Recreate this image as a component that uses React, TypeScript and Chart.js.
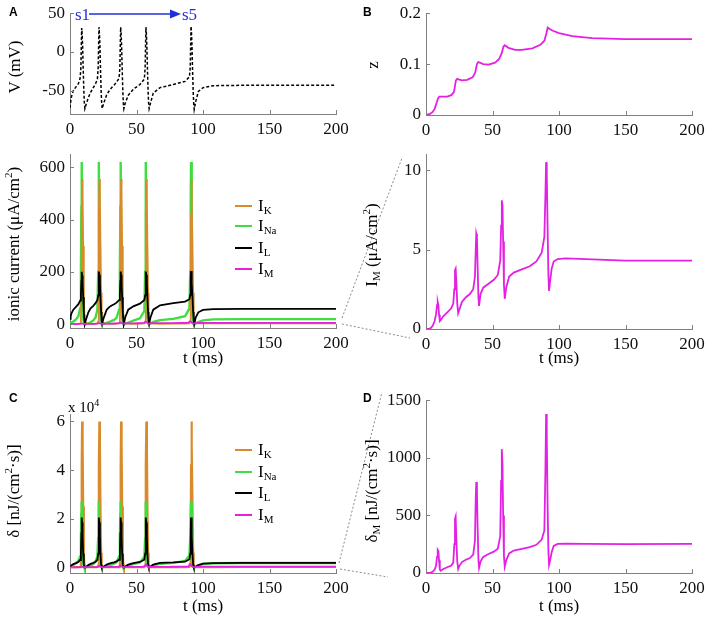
import React, { useEffect, useRef } from 'react';
import { Chart, registerables } from 'chart.js';

Chart.register(...registerables);

const SERIF = '"Liberation Serif", "Times New Roman", Times, serif';
const CANVAS_SERIF = 'Liberation Serif';
const SANS = '"Liberation Sans", Arial, Helvetica, sans-serif';
const AXIS = '#808080';
const TXT = '#111111';
const ORANGE = '#d98b2c';
const GREEN = '#3ddf3d';
const BLACK = '#000000';
const MAGENTA = '#e320e3';
const BLUE = '#2130d6';

Chart.defaults.font.family = CANVAS_SERIF;

// ---------- tick values ----------
const T_TICKS = [0, 50, 100, 150, 200];
const V_TICKS = [-50, 0, 50];
const I_TICKS = [0, 200, 400, 600];
const Z_TICKS = [0, 0.1, 0.2];
const IM_TICKS = [0, 5, 10];
const D_TICKS = [0, 20000, 40000, 60000];
const D_TICK_LABELS = ['0', '2', '4', '6'];
const DM_TICKS = [0, 500, 1000, 1500];

// ---------- data: time grid (ms) for V, ionic currents and energy rates ----------
const tA = [
  0, 0.5, 1.2, 2.5, 4.5, 6.3, 7.6,
  8.2, 8.55, 8.8, 9.1, 9.5, 9.9, 10.4, 10.8, 11.2,
  12.2, 13.8, 15.5, 17.5, 19.2, 20.6,
  21.2, 21.55, 21.8, 22.1, 22.5, 22.9, 23.4, 23.8, 24.2,
  25.2, 27.6, 29.5, 31.3, 33.2, 35, 36.9,
  37.5, 37.85, 38.1, 38.4, 38.8, 39.2, 39.7, 40.1, 40.5,
  41.5, 43.8, 47.6, 52.6, 55.9,
  56.5, 56.85, 57.1, 57.4, 57.8, 58.2, 58.7, 59.1, 59.5,
  60.5, 62.6, 67.7, 77.7, 86.5, 89.8,
  90.4, 90.75, 91, 91.3, 91.7, 92.1, 92.6, 93, 93.4,
  94.5, 96.5, 100, 107.7, 130, 200,
];

// membrane potential (mV)
const V = [
  -72, -64, -57, -50, -45, -41, -34,
  -20, 12, 31, 24, 8, -20, -50, -66, -73,
  -67, -59, -52, -46, -41, -35,
  -20, 12, 32, 25, 8, -20, -50, -66, -73,
  -67, -55, -50, -46, -42.5, -39, -34,
  -20, 12, 32, 25, 8, -20, -50, -66, -73,
  -66, -56, -48, -42, -35,
  -20, 12, 32, 25, 8, -20, -50, -66, -73,
  -66, -53, -46, -42, -38, -32,
  -20, 12, 33, 26, 8, -20, -50, -66, -74,
  -64, -51, -46, -43.5, -43, -43,
];

// ionic currents (µA/cm²)
const IK = [
  1, 1, 1, 1, 1, 2, 3,
  10, 120, 420, 555, 480, 300, 120, 35, 10,
  4, 2, 1, 1, 2, 3,
  10, 120, 420, 555, 480, 300, 120, 35, 10,
  4, 2, 1, 1, 1, 2, 3,
  10, 120, 420, 555, 480, 300, 120, 35, 10,
  4, 2, 1, 2, 3,
  10, 120, 420, 555, 480, 300, 120, 35, 10,
  4, 2, 1, 2, 2, 3,
  10, 120, 420, 555, 480, 300, 120, 35, 10,
  4, 3, 3, 3, 3, 3,
];
const INa = [
  2, 4, 6, 10, 18, 30, 60,
  200, 450, 620, 300, 90, 25, 6, 1, 0,
  1, 3, 7, 14, 25, 55,
  200, 450, 620, 300, 90, 25, 6, 1, 0,
  1, 5, 8, 12, 16, 24, 55,
  200, 450, 620, 300, 90, 25, 6, 1, 0,
  2, 6, 13, 22, 50,
  200, 450, 620, 300, 90, 25, 6, 1, 0,
  2, 8, 15, 20, 30, 60,
  200, 450, 620, 300, 90, 25, 6, 1, 0,
  2, 8, 14, 18, 19, 19,
];
const IL = [
  20, 30, 42, 55, 66, 76, 90,
  110, 165, 200, 186, 156, 103, 46, 15, 2,
  20, 45, 60, 70, 80, 92,
  110, 165, 201, 188, 156, 103, 46, 15, 2,
  22, 55, 65, 71, 76, 82, 92,
  110, 165, 201, 188, 156, 103, 46, 15, 2,
  25, 55, 68, 78, 92,
  110, 165, 201, 188, 156, 103, 46, 15, 2,
  25, 55, 72, 80, 86, 95,
  112, 165, 203, 190, 156, 103, 46, 15, 0,
  25, 45, 54, 57, 58, 58,
];

// energy consumption rates (nJ/(cm²·s))
const dK = [
  10, 15, 20, 30, 40, 60, 100,
  700, 10000, 42000, 60000, 50000, 25000, 6000, 1200, 200,
  90, 60, 50, 50, 60, 100,
  700, 10000, 42000, 60000, 50000, 25000, 6000, 1200, 200,
  90, 60, 50, 50, 55, 70, 100,
  700, 10000, 42000, 60000, 50000, 25000, 6000, 1200, 200,
  90, 60, 50, 60, 100,
  700, 10000, 42000, 60000, 50000, 25000, 6000, 1200, 200,
  90, 60, 50, 55, 70, 110,
  700, 10000, 42000, 60000, 50000, 25000, 6000, 1200, 200,
  90, 70, 80, 100, 120, 120,
];
const dNa = [
  200, 400, 600, 1000, 1700, 2700, 4500,
  12000, 22000, 27000, 9000, 3000, 1400, 500, 100, 0,
  100, 300, 700, 1300, 2300, 4500,
  12000, 22000, 27000, 9000, 3000, 1400, 500, 100, 0,
  100, 500, 800, 1150, 1500, 2100, 4500,
  12000, 22000, 27000, 9000, 3000, 1400, 500, 100, 0,
  200, 650, 1300, 2000, 4300,
  12000, 22000, 27000, 9000, 3000, 1400, 500, 100, 0,
  200, 800, 1400, 1800, 2600, 4800,
  12000, 22000, 27000, 9000, 3000, 1400, 500, 100, 0,
  200, 800, 1350, 1650, 1750, 1750,
];
const dL = [
  300, 500, 900, 1300, 1700, 2200, 3000,
  5600, 14000, 20500, 18400, 12800, 5600, 1100, 120, 5,
  200, 900, 1400, 1800, 2300, 3100,
  5600, 14000, 20500, 18400, 12800, 5600, 1100, 120, 5,
  250, 1100, 1500, 1800, 2000, 2400, 3100,
  5600, 14000, 20500, 18400, 12800, 5600, 1100, 120, 5,
  300, 1100, 1700, 2200, 3100,
  5600, 14000, 20500, 18400, 12800, 5600, 1100, 120, 5,
  300, 1100, 1800, 2000, 2300, 3300,
  5600, 14000, 20500, 18800, 12800, 5600, 1100, 120, 0,
  300, 900, 1500, 1700, 1800, 1800,
];

// ---------- M-current data ----------
const tM = [
  0, 2, 3.5, 5, 6.5, 7.5, 8.3, 8.8, 9.3, 9.8,
  10.4, 11, 13, 16, 19, 20.5, 21.3, 21.8, 22.3, 22.8,
  23.5, 24.2, 25, 27, 30, 33, 35.5, 36.8, 37.4, 37.8,
  38.3, 38.8, 39.4, 39.9, 41, 43, 47, 51, 54, 55.8,
  56.5, 57, 57.5, 58, 58.6, 59.2, 60.3, 62.5, 66, 72,
  78, 83, 87, 89, 89.8, 90.3, 90.8, 91.4, 92, 92.5,
  93.3, 94.5, 96, 99, 105, 120, 150, 200,
];
const IM = [
  0, 0, 0.05, 0.2, 0.5, 0.9, 1.5, 1.7, 1.5, 0.9,
  0.5, 0.55, 0.8, 1.05, 1.3, 1.6, 2.5, 3.7, 3.8, 3.0,
  1.6, 1.0, 1.2, 1.7, 2.0, 2.2, 2.5, 3.3, 5.0, 6.0,
  5.8, 4.0, 2.0, 1.45, 2.2, 2.6, 2.85, 3.1, 3.4, 4.3,
  6.5, 8.1, 7.8, 5.5, 2.8, 1.9, 2.6, 3.3, 3.55, 3.75,
  3.95, 4.25, 4.8, 5.8, 8.5, 10.5, 9.8, 6.5, 3.5, 2.4,
  3.0, 3.8, 4.25, 4.4, 4.45, 4.4, 4.3, 4.3,
];
const dM = [
  0, 0, 3, 10, 30, 60, 140, 200, 190, 110,
  30, 20, 35, 50, 65, 90, 250, 470, 490, 300,
  100, 35, 60, 95, 115, 130, 160, 280, 650, 790,
  700, 400, 120, 45, 100, 140, 165, 185, 210, 320,
  800, 1075, 950, 500, 150, 55, 110, 170, 195, 210,
  225, 245, 290, 370, 900, 1380, 1200, 600, 200, 70,
  110, 180, 235, 252, 255, 252, 250, 252,
];

// ---------- gating variable z ----------
const tZ = [
  0, 3, 5, 6.5, 8, 9, 10, 12, 16, 19,
  21, 22.5, 23.5, 24.5, 27, 31, 35, 37, 38.3, 39.3,
  40.5, 43, 47, 52, 55, 57, 58.2, 59.2, 62, 67,
  72, 80, 86, 89, 90.5, 91.5, 93, 95, 100, 110,
  125, 150, 200,
];
const Z = [
  0, 0.002, 0.006, 0.012, 0.024, 0.032, 0.036, 0.036, 0.036, 0.039,
  0.045, 0.068, 0.071, 0.07, 0.068, 0.069, 0.074, 0.083, 0.1, 0.104,
  0.103, 0.1, 0.099, 0.103, 0.11, 0.122, 0.134, 0.137, 0.132, 0.128,
  0.128, 0.131, 0.138, 0.146, 0.16, 0.172, 0.169, 0.166, 0.161, 0.155,
  0.151, 0.149, 0.149,
];

// ---------- layout ----------
const YW = 60; // reserved y-axis width
const XH = 34; // reserved x-axis height
const PT = 14; // top padding
const PR = 22; // right padding

type Series = { xs: number[]; ys: number[]; color: string; width?: number; dash?: number[] };
type PanelSpec = {
  L: number; T: number; R: number; B: number;
  ymin: number; ymax: number;
  yticks: number[]; ylabels?: string[];
  series: Series[];
};

const inwardTicks = {
  id: 'inwardTicks',
  afterDraw(chart: any) {
    const { ctx, chartArea: a, scales } = chart;
    ctx.save();
    ctx.strokeStyle = AXIS;
    ctx.lineWidth = 1;
    ctx.beginPath();
    for (const t of scales.x.ticks) {
      const px = Math.round(scales.x.getPixelForValue(t.value)) + 0.5;
      ctx.moveTo(px, a.bottom);
      ctx.lineTo(px, a.bottom - 4);
    }
    for (const t of scales.y.ticks) {
      const py = Math.round(scales.y.getPixelForValue(t.value)) + 0.5;
      ctx.moveTo(a.left, py);
      ctx.lineTo(a.left + 4, py);
    }
    ctx.stroke();
    ctx.restore();
  },
};

function buildConfig(spec: PanelSpec): any {
  const tickFont = { family: CANVAS_SERIF, size: 17 };
  return {
    type: 'line',
    data: {
      datasets: spec.series.map((s) => ({
        data: s.xs.map((x, i) => ({ x, y: s.ys[i] })),
        borderColor: s.color,
        borderWidth: s.width ?? 1.8,
        borderDash: s.dash ?? [],
        pointRadius: 0,
        fill: false,
        tension: 0,
      })),
    },
    options: {
      animation: false,
      responsive: false,
      maintainAspectRatio: false,
      devicePixelRatio: 1,
      events: [],
      layout: { padding: { top: PT, right: PR, left: 0, bottom: 0 } },
      plugins: { legend: { display: false }, tooltip: { enabled: false } },
      scales: {
        x: {
          type: 'linear',
          min: 0,
          max: 200,
          afterFit: (s: any) => { s.height = XH; },
          afterBuildTicks: (s: any) => { s.ticks = T_TICKS.map((v) => ({ value: v })); },
          grid: { display: true, drawOnChartArea: false, drawTicks: false },
          border: { display: true, color: AXIS, width: 1 },
          ticks: {
            padding: 5,
            color: TXT,
            autoSkip: false,
            maxRotation: 0,
            font: tickFont,
            callback: (v: number) => String(v),
          },
        },
        y: {
          type: 'linear',
          min: spec.ymin,
          max: spec.ymax,
          afterFit: (s: any) => { s.width = YW; },
          afterBuildTicks: (s: any) => { s.ticks = spec.yticks.map((v) => ({ value: v })); },
          grid: { display: true, drawOnChartArea: false, drawTicks: false },
          border: { display: true, color: AXIS, width: 1 },
          ticks: {
            padding: 5,
            color: TXT,
            autoSkip: false,
            font: tickFont,
            callback: (v: number) => {
              const i = spec.yticks.indexOf(v);
              return spec.ylabels && i >= 0 ? spec.ylabels[i] : String(v);
            },
          },
        },
      },
    },
    plugins: [inwardTicks],
  };
}

function Panel({ spec }: { spec: PanelSpec }) {
  const ref = useRef<HTMLCanvasElement>(null);
  useEffect(() => {
    const chart = new Chart(ref.current as HTMLCanvasElement, buildConfig(spec));
    return () => chart.destroy();
  }, []);
  const w = spec.R - spec.L + YW + PR;
  const h = spec.B - spec.T + PT + XH;
  return (
    <canvas
      ref={ref}
      width={w}
      height={h}
      style={{ position: 'absolute', left: spec.L - YW, top: spec.T - PT, width: w, height: h }}
    />
  );
}

const panelA1: PanelSpec = {
  L: 70, T: 12, R: 336, B: 114, ymin: -80, ymax: 50, yticks: V_TICKS,
  series: [{ xs: tA, ys: V, color: BLACK, width: 1.5, dash: [3, 2] }],
};
const panelA2: PanelSpec = {
  L: 70, T: 153, R: 336, B: 328, ymin: -15, ymax: 650, yticks: I_TICKS,
  series: [
    { xs: tM, ys: IM, color: MAGENTA },
    { xs: tA, ys: IL, color: BLACK },
    { xs: tA, ys: IK, color: ORANGE },
    { xs: tA, ys: INa, color: GREEN, width: 2.4 },
  ],
};
const panelB1: PanelSpec = {
  L: 426, T: 12, R: 692, B: 115, ymin: 0, ymax: 0.2, yticks: Z_TICKS,
  series: [{ xs: tZ, ys: Z, color: MAGENTA }],
};
const panelB2: PanelSpec = {
  L: 426, T: 153, R: 692, B: 329, ymin: 0, ymax: 11, yticks: IM_TICKS,
  series: [{ xs: tM, ys: IM, color: MAGENTA }],
};
const panelC: PanelSpec = {
  L: 70, T: 413, R: 336, B: 573, ymin: -2350, ymax: 63000, yticks: D_TICKS, ylabels: D_TICK_LABELS,
  series: [
    { xs: tM, ys: dM, color: MAGENTA },
    { xs: tA, ys: dL, color: BLACK },
    { xs: tA, ys: dNa, color: GREEN, width: 2.4 },
    { xs: tA, ys: dK, color: ORANGE, width: 2.2 },
  ],
};
const panelD: PanelSpec = {
  L: 426, T: 399, R: 692, B: 573, ymin: 0, ymax: 1500, yticks: DM_TICKS,
  series: [{ xs: tM, ys: dM, color: MAGENTA }],
};

const subStyle: React.CSSProperties = { fontSize: 11, position: 'relative', top: 3 };
const supStyle: React.CSSProperties = { fontSize: 11, position: 'relative', top: -7 };

function VText({ cx, cy, children }: { cx: number; cy: number; children: React.ReactNode }) {
  return (
    <div
      style={{
        position: 'absolute', left: cx, top: cy, fontSize: 17, lineHeight: '17px',
        whiteSpace: 'nowrap', transform: 'translate(-50%, -50%) rotate(-90deg)', color: '#000',
      }}
    >
      {children}
    </div>
  );
}

function HText({ cx, cy, children }: { cx: number; cy: number; children: React.ReactNode }) {
  return (
    <div
      style={{
        position: 'absolute', left: cx, top: cy, fontSize: 17, lineHeight: '17px',
        whiteSpace: 'nowrap', transform: 'translate(-50%, -50%)', color: '#000',
      }}
    >
      {children}
    </div>
  );
}

function LegendItem({ x, y, color, sub }: { x: number; y: number; color: string; sub: string }) {
  return (
    <>
      <div style={{ position: 'absolute', left: x, top: y - 1, width: 17, height: 2, background: color }} />
      <div style={{ position: 'absolute', left: x + 23, top: y - 10, fontSize: 17, lineHeight: '20px', whiteSpace: 'nowrap' }}>
        I<span style={subStyle}>{sub}</span>
      </div>
    </>
  );
}

function PanelLetter({ x, y, t }: { x: number; y: number; t: string }) {
  return (
    <div style={{ position: 'absolute', left: x, top: y, fontFamily: SANS, fontWeight: 'bold', fontSize: 12, lineHeight: '12px' }}>
      {t}
    </div>
  );
}

export default function App() {
  const legendNames = ['K', 'Na', 'L', 'M'];
  const legendColors = [ORANGE, GREEN, BLACK, MAGENTA];
  const legA = [206, 226, 248, 269];
  const legC = [450, 472, 493, 515];
  return (
    <div
      style={{
        position: 'fixed', left: 0, top: 0, width: 708, height: 617, background: '#fff',
        overflow: 'hidden', fontFamily: SERIF, color: '#000',
      }}
    >
      <Panel spec={panelA1} />
      <Panel spec={panelA2} />
      <Panel spec={panelB1} />
      <Panel spec={panelB2} />
      <Panel spec={panelC} />
      <Panel spec={panelD} />

      <svg width={708} height={617} style={{ position: 'absolute', left: 0, top: 0, pointerEvents: 'none' }}>
        <g stroke="#8a8a8a" strokeWidth={1} strokeDasharray="2 2" fill="none">
          <line x1={342} y1={318} x2={402} y2={158} />
          <line x1={342} y1={324} x2={410} y2={338} />
          <line x1={339} y1={563} x2={382} y2={392} />
          <line x1={340} y1={569} x2={388} y2={577} />
        </g>
        <line x1={89} y1={14} x2={171} y2={14} stroke={BLUE} strokeWidth={1.5} />
        <polygon points="181,14 170,9.5 170,18.5" fill={BLUE} />
      </svg>

      <div style={{ position: 'absolute', left: 75, top: 5, fontSize: 17, lineHeight: '20px', color: BLUE }}>s1</div>
      <div style={{ position: 'absolute', left: 182, top: 5, fontSize: 17, lineHeight: '20px', color: BLUE }}>s5</div>

      <PanelLetter x={9} y={6} t="A" />
      <PanelLetter x={363} y={6} t="B" />
      <PanelLetter x={9} y={392} t="C" />
      <PanelLetter x={363} y={392} t="D" />

      <VText cx={14} cy={67}>V (mV)</VText>
      <VText cx={14} cy={244}>
        ionic current (μA/cm<span style={supStyle}>2</span>)
      </VText>
      <VText cx={372} cy={65}>z</VText>
      <VText cx={372} cy={245}>
        I<span style={subStyle}>M</span> (μA/cm<span style={supStyle}>2</span>)
      </VText>
      <VText cx={14} cy={491}>
        δ [nJ/(cm<span style={supStyle}>2</span>·s)]
      </VText>
      <VText cx={372} cy={491}>
        δ<span style={subStyle}>M</span> [nJ/(cm<span style={supStyle}>2</span>·s)]
      </VText>

      <HText cx={203} cy={357}>t (ms)</HText>
      <HText cx={559} cy={357}>t (ms)</HText>
      <HText cx={203} cy={605}>t (ms)</HText>
      <HText cx={559} cy={605}>t (ms)</HText>

      <div style={{ position: 'absolute', left: 68, top: 399, fontSize: 15, lineHeight: '17px', whiteSpace: 'nowrap' }}>
        x 10<span style={{ fontSize: 10, position: 'relative', top: -6 }}>4</span>
      </div>

      {legendNames.map((n, i) => (
        <LegendItem key={'a' + n} x={235} y={legA[i]} color={legendColors[i]} sub={n} />
      ))}
      {legendNames.map((n, i) => (
        <LegendItem key={'c' + n} x={235} y={legC[i]} color={legendColors[i]} sub={n} />
      ))}
    </div>
  );
}
